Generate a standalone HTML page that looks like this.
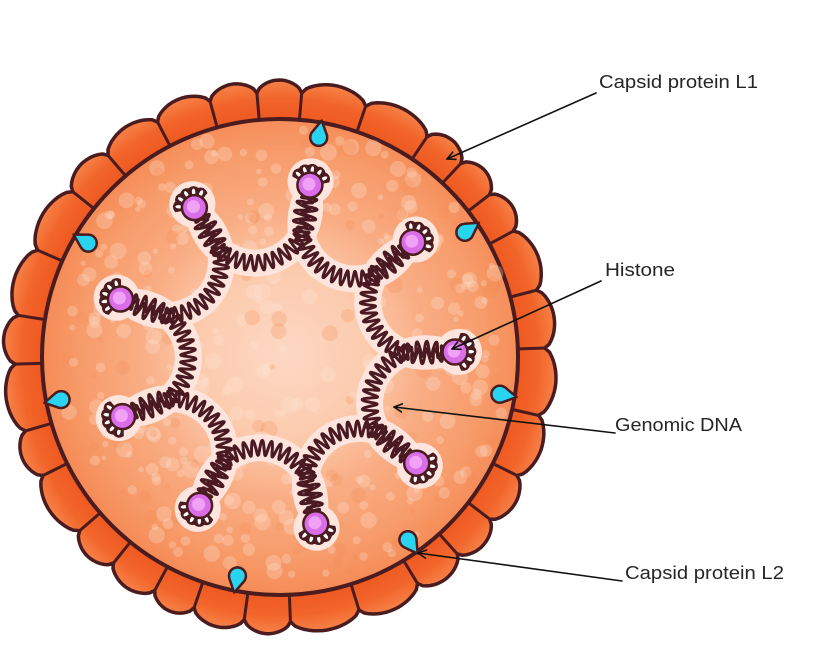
<!DOCTYPE html>
<html><head><meta charset="utf-8">
<style>
html,body{margin:0;padding:0;background:#fff;}
svg{display:block;}
text{font-family:"Liberation Sans",sans-serif;font-size:18px;fill:#262626;}
</style></head><body>
<svg id="s" width="826" height="653" viewBox="0 0 826 653" xmlns="http://www.w3.org/2000/svg">
<defs>
<radialGradient id="cap" cx="280" cy="357" r="278" gradientUnits="userSpaceOnUse">
<stop offset="0.85" stop-color="#ee5820"/>
<stop offset="0.93" stop-color="#f2652a"/>
<stop offset="1" stop-color="#f7844a"/>
</radialGradient>
<radialGradient id="body" cx="283" cy="355" r="238" gradientUnits="userSpaceOnUse">
<stop offset="0" stop-color="#fdd8c4"/>
<stop offset="0.35" stop-color="#fccbae"/>
<stop offset="0.6" stop-color="#f9ad84"/>
<stop offset="0.85" stop-color="#f79c6b"/>
<stop offset="1" stop-color="#f58c57"/>
</radialGradient>
</defs>
<rect width="826" height="653" fill="#fff"/>
<circle cx="280" cy="357" r="264" fill="url(#cap)"/>
<g id="capsid"></g>
<circle cx="280" cy="357" r="238" fill="url(#body)" stroke="#4a1c1f" stroke-width="4"/>
<g id="dots"></g>
<g id="dna"></g>
<g id="tears"></g>
<g fill="none" stroke="#111" stroke-width="1.6" stroke-linecap="round" stroke-linejoin="round">
<line x1="596" y1="93" x2="447" y2="159"/>
<polyline points="452.7,152.1 447,159 455.9,159.4"/>
<line x1="601" y1="281" x2="452" y2="349"/>
<polyline points="457.6,342.0 452,349 461.0,349.3"/>
<line x1="615" y1="433" x2="394" y2="407"/>
<polyline points="402.4,403.9 394,407 401.4,411.9"/>
<line x1="622" y1="581" x2="418" y2="553"/>
<polyline points="426.5,550.1 418,553 425.4,558.1"/>
</g>
<text x="599" y="88" textLength="159" lengthAdjust="spacingAndGlyphs">Capsid protein L1</text>
<text x="605" y="276" textLength="70" lengthAdjust="spacingAndGlyphs">Histone</text>
<text x="615" y="431" textLength="127" lengthAdjust="spacingAndGlyphs">Genomic DNA</text>
<text x="625" y="579" textLength="159" lengthAdjust="spacingAndGlyphs">Capsid protein L2</text>
</svg>
<script>
(function(){
const NS="http://www.w3.org/2000/svg";
function el(tag,at,par){const e=document.createElementNS(NS,tag);for(const k in at)e.setAttribute(k,at[k]);par.appendChild(e);return e;}
let sd=12345;function rnd(){sd=(sd*16807)%2147483647;return (sd-1)/2147483646;}
const CX=280,CY=357,DEG=Math.PI/180;
function P(cx,cy,r,a){return [cx+r*Math.cos(a*DEG),cy+r*Math.sin(a*DEG)];}
const f=v=>v.toFixed(1);
const DARK="#4a1c1f";
// capsid
const cap=document.getElementById('capsid');
const N=30;let w=[],tot=0;for(let i=0;i<N;i++){w[i]=0.75+0.5*rnd();tot+=w[i];}
let angs=[],acc=-95;for(let i=0;i<N;i++){angs.push(acc);acc+=w[i]/tot*360;}
let d='';
for(let i=0;i<N;i++){const a0=angs[i],a1=i+1<N?angs[i+1]:angs[0]+360;
 for(let j=0;j<16;j++){const t=j/16;const a=a0+(a1-a0)*t;const r=265+12*Math.pow(Math.sin(Math.PI*t),0.6);const p=P(CX,CY,r,a);d+=(i==0&&j==0?'M':'L')+f(p[0])+' '+f(p[1]);}}
d+='Z';
el('path',{d:d,fill:'url(#cap)',stroke:DARK,'stroke-width':3.5,'stroke-linejoin':'round'},cap);
for(let i=0;i<N;i++){const p0=P(CX,CY,236,angs[i]),p1=P(CX,CY,266,angs[i]);
 el('line',{x1:f(p0[0]),y1:f(p0[1]),x2:f(p1[0]),y2:f(p1[1]),stroke:DARK,'stroke-width':3,'stroke-linecap':'round'},cap);}
// dots
const dots=document.getElementById('dots');
for(let i=0;i<420;i++){const a=rnd()*360,r=Math.sqrt(rnd())*228;const p=P(283,355,r,a);const rr=2.5+rnd()*6;const light=rnd()<0.75;
 el('circle',{cx:f(p[0]),cy:f(p[1]),r:f(rr),fill:light?'#ffe6d6':'#f28a55','fill-opacity':light?0.28:0.25},dots);}
// DNA
const dna=document.getElementById('dna');
const DX=283,DY=355;
const th=[];for(let k=0;k<9;k++)th.push(-1+40*k);
let base='',coil='';
for(let k=0;k<9;k++){
 const A=th[k],B=th[(k+1)%9]+(k==8?360:0);
 const E1=P(DX,DY,163,A),E2=P(DX,DY,163,B);
 const M=[(E1[0]+E2[0])/2,(E1[1]+E2[1])/2];
 const r=Math.hypot(E1[0]-M[0],E1[1]-M[1]);
 const u=[(E1[0]-M[0])/r,(E1[1]-M[1])/r];
 let wv=[DX-M[0],DY-M[1]];const wl=Math.hypot(wv[0],wv[1]);wv=[wv[0]/wl,wv[1]/wl];
 const a=r,b=r*1.05;
 const L=Math.PI*r;const n=Math.round(L/8.2);
 const S=500;
 for(let j=0;j<=S;j++){const phi=Math.PI*j/S;
  const bx=M[0]+a*u[0]*Math.cos(phi)+b*wv[0]*Math.sin(phi);
  const by=M[1]+a*u[1]*Math.cos(phi)+b*wv[1]*Math.sin(phi);
  let nx=b*Math.cos(phi)*u[0]+a*Math.sin(phi)*wv[0];
  let ny=b*Math.cos(phi)*u[1]+a*Math.sin(phi)*wv[1];
  const nl=Math.hypot(nx,ny);nx/=nl;ny/=nl;
  const off=7.5*Math.sin(2*Math.PI*n*j/S);
  coil+=((j==0)?'M':'L')+f(bx+off*nx)+' '+f(by+off*ny);
  if(j%10==0)base+=((k==0&&j==0)?'M':'L')+f(bx)+' '+f(by);
 }
}
base+='Z';
el('path',{d:base,fill:'none',stroke:'#fde4dd','stroke-width':27,'stroke-linejoin':'round','stroke-linecap':'round'},dna);
const H=th.map(t=>P(DX,DY,172,t));
th.forEach((t,k)=>{const h=H[k];const c=P(h[0],h[1],4,t);el('circle',{cx:f(c[0]),cy:f(c[1]),r:23,fill:'#fde4dd'},dna);});
el('path',{d:coil,fill:'none',stroke:'#4a1a22','stroke-width':3,'stroke-linejoin':'round','stroke-linecap':'round'},dna);
th.forEach((t,k)=>{const h=H[k];
 // dark fan
 let fd='M'+f(h[0])+' '+f(h[1]);
 for(let j=0;j<=20;j++){const a=t-70+140*j/20;const rr=19+1.5*Math.abs(Math.sin(j*Math.PI/4));const q=P(h[0],h[1],rr,a);fd+='L'+f(q[0])+' '+f(q[1]);}
 fd+='Z';
 el('path',{d:fd,fill:DARK,stroke:DARK,'stroke-width':2,'stroke-linejoin':'round'},dna);
 for(const o of [-56,-28,0,28,56]){const a=t+o;const q=P(h[0],h[1],15.5,a);
  el('ellipse',{cx:f(q[0]),cy:f(q[1]),rx:3.6,ry:1.7,transform:'rotate('+f(a)+' '+f(q[0])+' '+f(q[1])+')',fill:'#fff'},dna);}
 el('circle',{cx:f(h[0]),cy:f(h[1]),r:12.5,fill:'#d96ee8',stroke:DARK,'stroke-width':2.5},dna);
 el('circle',{cx:f(h[0]-1),cy:f(h[1]-1),r:6.5,fill:'#f2a2f6'},dna);
});
// teardrops
const tears=document.getElementById('tears');
[280,326,9.6,55,101,169,210.7].forEach(a=>{
 const C=P(CX,CY,223,a),T=P(CX,CY,240,a);const rr=8.5,dist=17;const beta=Math.acos(rr/dist)/DEG;
 let dd='M'+f(T[0])+' '+f(T[1]);
 for(let j=0;j<=24;j++){const ang=a+beta+(360-2*beta)*j/24;const q=P(C[0],C[1],rr,ang);dd+='L'+f(q[0])+' '+f(q[1]);}
 dd+='Z';
 el('path',{d:dd,fill:'#29d4f0',stroke:DARK,'stroke-width':2.5,'stroke-linejoin':'round'},tears);
});
})();
</script>
</body></html>
